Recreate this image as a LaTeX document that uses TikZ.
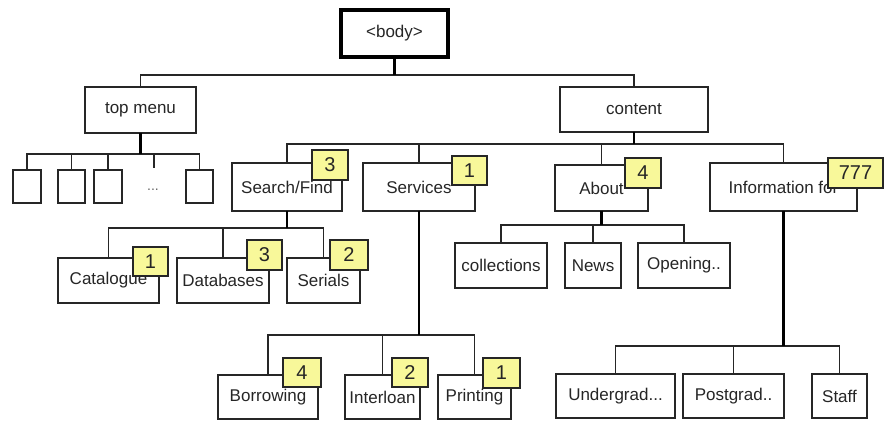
\documentclass[tikz,border=0pt]{standalone}
\usepackage{fontspec}
\setmainfont{Liberation Sans}
\definecolor{badgefill}{HTML}{F8F89A}
\definecolor{txt}{HTML}{262626}
\begin{document}
\begin{tikzpicture}[x=1pt,y=-1pt,
  box/.style={draw=black!85, line width=1.6pt, fill=white, inner sep=0pt, outer sep=0pt,
    font=\fontsize{17}{19}\selectfont, text=txt, minimum height=45pt},
  badge/.style={draw=black!85, line width=1.6pt, fill=badgefill, inner sep=0pt, outer sep=0pt,
    font=\fontsize{20}{22}\selectfont, text=txt, minimum width=36pt, minimum height=30pt},
  link/.style={draw=black!85, line width=1.6pt},
  stem/.style={draw=black, line width=2.4pt}]
\useasboundingbox (0,0) rectangle (887,422);
\fill[white] (0,0) rectangle (887,422);

% nodes
\node[box, line width=3.2pt, draw=black, minimum width=107pt, minimum height=47pt] (body) at (394.5,33.5) {<body>};
\node[box, minimum width=111pt, minimum height=46pt] (tm) at (140.5,110) {top menu};
\node[box, minimum width=148pt] (ct) at (634,109.5) {content};

\node[box, minimum width=28pt, minimum height=33pt] (s1) at (27,186.5) {};
\node[box, minimum width=27pt, minimum height=33pt] (s2) at (71.5,186.5) {};
\node[box, minimum width=28pt, minimum height=33pt] (s3) at (108,186.5) {};
\node[box, minimum width=27pt, minimum height=33pt] (s4) at (199.5,186.5) {};
\node[font=\fontsize{14}{16}\selectfont, text=black!60] (dt) at (153,190) {...};
\coordinate (dots) at (154,168);

\node[box, minimum width=110pt, minimum height=48pt] (sf) at (287,187) {Search/Find};
\node[box, minimum width=112pt, minimum height=48pt] (sv) at (419,187) {Services};
\node[box, minimum width=93pt, minimum height=46pt] (ab) at (601.5,188) {About};
\node[box, minimum width=147pt, minimum height=48pt] (inf) at (783.5,187) {Information for};

\node[box, minimum width=101pt] (cat) at (108.5,280.5) {Catalogue};
\node[box, minimum width=92pt] (db) at (223,280.5) {Databases};
\node[box, minimum width=73pt] (ser) at (323.5,280.5) {Serials};

\node[box, minimum width=92pt] (col) at (501,265.5) {collections};
\node[box, minimum width=56pt] (news) at (593,265.5) {News};
\node[box, minimum width=92pt] (open) at (684,265.5) {Opening..};

\node[box, minimum width=100pt, minimum height=44pt] (bor) at (268,397) {Borrowing};
\node[box, minimum width=75pt, minimum height=44pt] (intl) at (382.5,397) {Interloan};
\node[box, minimum width=73pt, minimum height=44pt] (prt) at (474.5,397) {Printing};

\node[box, minimum width=119pt, minimum height=44pt] (ug) at (615.5,396) {Undergrad...};
\node[box, minimum width=101pt, minimum height=44pt] (pg) at (733.5,396) {Postgrad..};
\node[box, minimum width=55pt, minimum height=44pt] (stf) at (839.5,396) {Staff};

% badges
\node[badge] (bsf) at (330,165) {3};
\node[badge, minimum width=35pt, minimum height=29pt] (bsv) at (469.5,170.5) {1};
\node[badge] (bab) at (643,173) {4};
\node[badge, minimum width=55pt] (binf) at (855.5,173) {777};
\node[badge, minimum width=35pt, minimum height=29pt] (bcat) at (150.5,261.5) {1};
\node[badge, minimum width=35pt] (bdb) at (264.5,255) {3};
\node[badge, minimum width=38pt] (bser) at (349,255) {2};
\node[badge, minimum width=38pt, minimum height=29pt] (bbor) at (302,372.5) {4};
\node[badge, minimum height=29pt] (bintl) at (410,372.5) {2};
\node[badge, minimum width=37pt] (bprt) at (501.5,373) {1};

% junction points
\path (body.south) ++(0,18) coordinate (jbody);
\path (tm.south) ++(0,21) coordinate (jtm);
\path (ct.south) ++(0,12) coordinate (jct);
\path (sf.south) ++(0,17) coordinate (jsf);
\path (sv.south) ++(0,124) coordinate (jsv);
\path (ab.south) ++(0,14) coordinate (jab);
\path (inf.south) ++(0,135) coordinate (jinf);

% connectors
\draw[link] (jbody) -| (tm.north);
\draw[link] (jbody) -| (ct.north);
\draw[stem] (body.south) -- (jbody);

\draw[link] (jtm) -| (s1.north);
\draw[link] (jtm) -| (s2.north);
\draw[link] (jtm) -| (s3.north);
\draw[link] (jtm) -| (dots);
\draw[link] (jtm) -| (s4.north);
\draw[stem] (tm.south) -- (jtm);

\draw[link] (jct) -| (sf.north);
\draw[link] (jct) -| (sv.north);
\draw[link] (jct) -| (ab.north);
\draw[link] (jct) -| (inf.north);
\draw[stem] (ct.south) -- (jct);

\draw[link] (jsf) -| (cat.north);
\draw[link] (jsf) -| (db.north);
\draw[link] (jsf) -| (ser.north);
\draw[stem] (sf.south) -- (jsf);

\draw[link] (jsv) -| (bor.north);
\draw[link] (jsv) -| (intl.north);
\draw[link] (jsv) -| (prt.north);
\draw[stem] (sv.south) -- (jsv);

\draw[link] (jab) -| (col.north);
\draw[link] (jab) -| (news.north);
\draw[link] (jab) -| (open.north);
\draw[stem] (ab.south) -- (jab);

\draw[link] (jinf) -| (ug.north);
\draw[link] (jinf) -| (pg.north);
\draw[link] (jinf) -| (stf.north);
\draw[stem] (inf.south) -- (jinf);
\end{tikzpicture}
\end{document}
